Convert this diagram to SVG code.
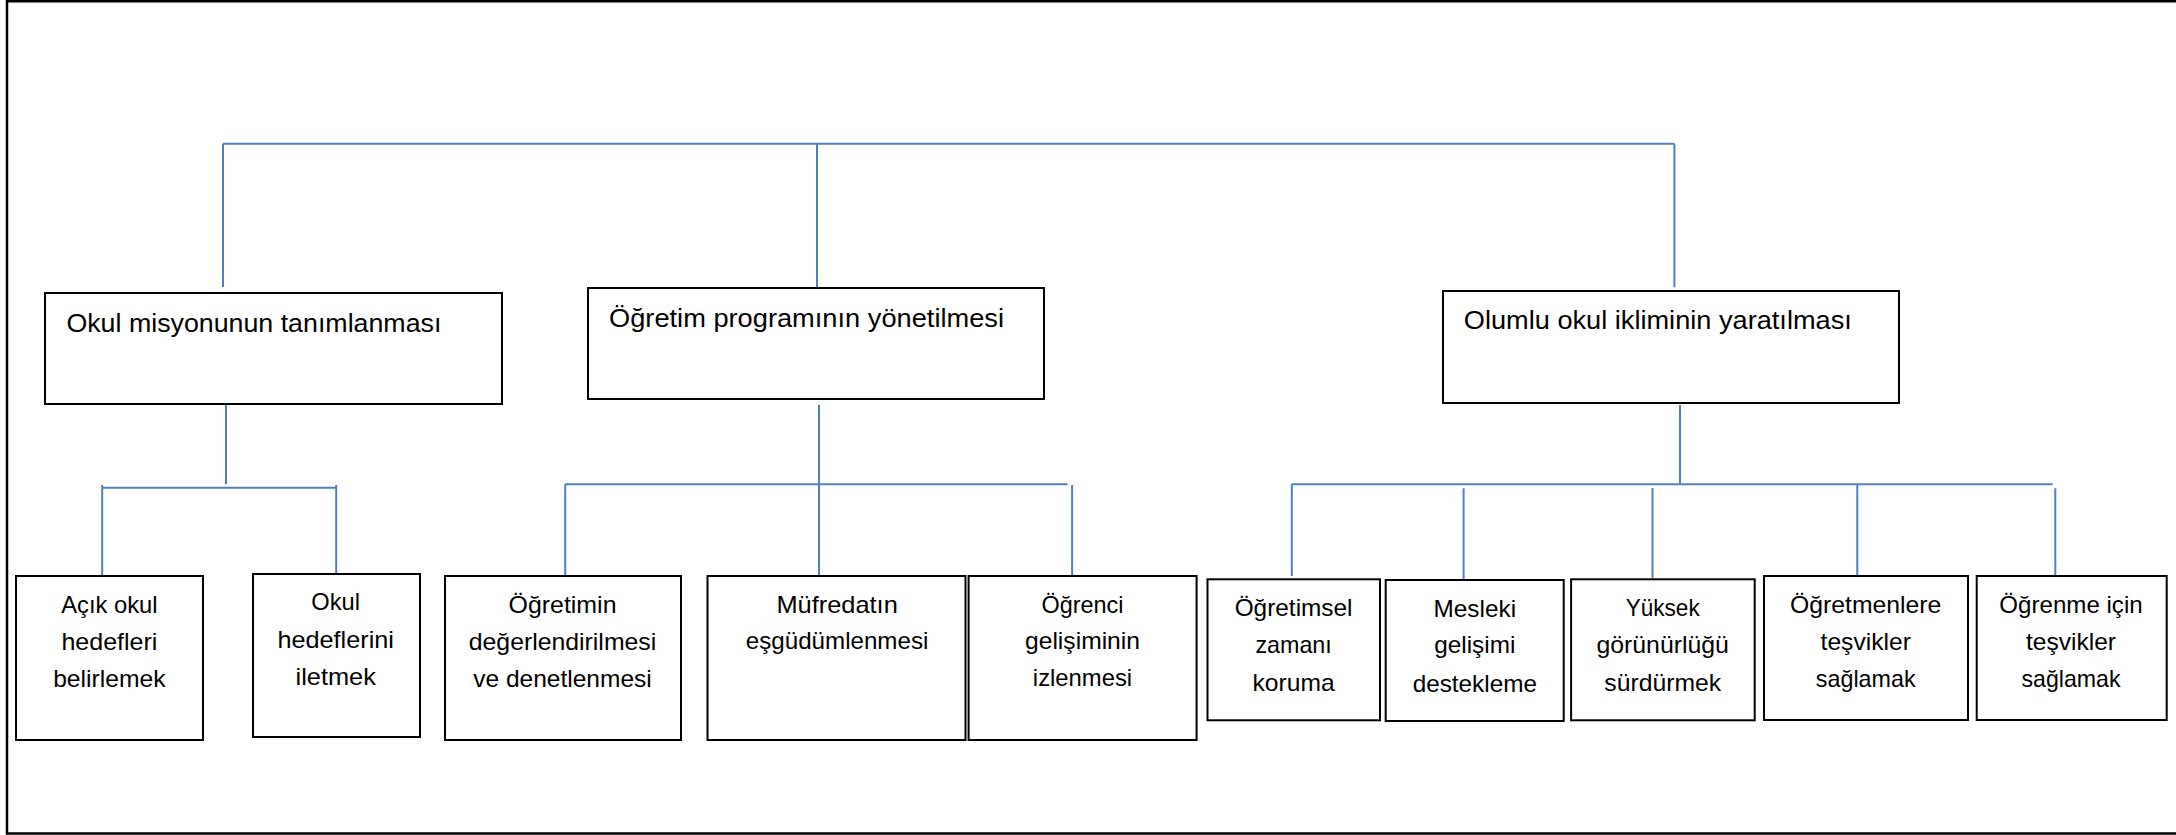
<svg xmlns="http://www.w3.org/2000/svg" width="2176" height="835" viewBox="0 0 2176 835">
<style>
.frame{fill:none;stroke:#000;stroke-width:2.5}
.box{fill:#fff;stroke:#000;stroke-width:2}
.conn{fill:none;stroke:#4F81BD;stroke-width:2}
text{font-family:"Liberation Sans",Arial,sans-serif;fill:#000}
.top{font-size:25px}
.sub{font-size:24px;text-anchor:middle}
</style>
<rect x="0" y="0" width="2176" height="835" fill="#fff"/>
<path class="frame" d="M2180 1.2 H7 V833.5 H2180"/>
<g id="connectors">
<path class="conn" d="M223 143.7 H1674.4 M223 143.7 V287 M817 143.7 V287 M1674.4 143.7 V287.3"/>
<path class="conn" d="M226 405 V484.3 M102.2 487.7 H336.2 M102.2 485 V576 M336.2 485 V573"/>
<path class="conn" d="M819 405 V576 M565.2 484.3 H1067.5 M565.2 484.3 V576 M1072.1 485 V576"/>
<path class="conn" d="M1680 405 V484.3 M1291.8 484.3 H2052.7 M1291.8 484.3 V576 M1463.6 488.3 V579.3 M1652.5 488 V578 M1857.3 484.3 V576 M2055.3 488.3 V576"/>
</g>
<g id="n1"><rect class="box" x="45" y="293" width="457" height="111"/><text class="top" x="66.4" y="331.7" textLength="375" lengthAdjust="spacingAndGlyphs">Okul misyonunun tanımlanması</text></g>
<g id="n2"><rect class="box" x="588" y="288" width="456" height="111"/><text class="top" x="609" y="326.7" textLength="395" lengthAdjust="spacingAndGlyphs">Öğretim programının yönetilmesi</text></g>
<g id="n3"><rect class="box" x="1443" y="291" width="456" height="112"/><text class="top" x="1463.8" y="329.3" textLength="388" lengthAdjust="spacingAndGlyphs">Olumlu okul ikliminin yaratılması</text></g>
<g id="n1a"><rect class="box" x="16" y="576" width="187" height="164"/>
<text class="sub" x="109.4" y="613.3" textLength="96.4" lengthAdjust="spacingAndGlyphs">Açık okul</text>
<text class="sub" x="109.4" y="650" textLength="96" lengthAdjust="spacingAndGlyphs">hedefleri</text>
<text class="sub" x="109.4" y="687" textLength="112.5" lengthAdjust="spacingAndGlyphs">belirlemek</text></g>
<g id="n1b"><rect class="box" x="253" y="574" width="167" height="163"/>
<text class="sub" x="335.7" y="610" textLength="48.7" lengthAdjust="spacingAndGlyphs">Okul</text>
<text class="sub" x="335.7" y="648.3" textLength="116.5" lengthAdjust="spacingAndGlyphs">hedeflerini</text>
<text class="sub" x="335.7" y="685" textLength="80.4" lengthAdjust="spacingAndGlyphs">iletmek</text></g>
<g id="n2a"><rect class="box" x="445" y="576" width="236" height="164"/>
<text class="sub" x="562.5" y="613.3" textLength="108" lengthAdjust="spacingAndGlyphs">Öğretimin</text>
<text class="sub" x="562.5" y="650" textLength="187.5" lengthAdjust="spacingAndGlyphs">değerlendirilmesi</text>
<text class="sub" x="562.5" y="687" textLength="178.6" lengthAdjust="spacingAndGlyphs">ve denetlenmesi</text></g>
<g id="n2b"><rect class="box" x="707.5" y="576" width="258" height="164"/>
<text class="sub" x="837.1" y="612.7" textLength="121.4" lengthAdjust="spacingAndGlyphs">Müfredatın</text>
<text class="sub" x="837.1" y="649.3" textLength="182.5" lengthAdjust="spacingAndGlyphs">eşgüdümlenmesi</text></g>
<g id="n2c"><rect class="box" x="968.6" y="576" width="228" height="164"/>
<text class="sub" x="1082.5" y="612.7" textLength="82.1" lengthAdjust="spacingAndGlyphs">Öğrenci</text>
<text class="sub" x="1082.5" y="649.3" textLength="115" lengthAdjust="spacingAndGlyphs">gelişiminin</text>
<text class="sub" x="1082.5" y="686" textLength="99.3" lengthAdjust="spacingAndGlyphs">izlenmesi</text></g>
<g id="n3a"><rect class="box" x="1207.5" y="579.3" width="172.5" height="141"/>
<text class="sub" x="1293.6" y="615.7" textLength="117.9" lengthAdjust="spacingAndGlyphs">Öğretimsel</text>
<text class="sub" x="1293.6" y="653.3" textLength="76.4" lengthAdjust="spacingAndGlyphs">zamanı</text>
<text class="sub" x="1293.6" y="690.7" textLength="82.1" lengthAdjust="spacingAndGlyphs">koruma</text></g>
<g id="n3b"><rect class="box" x="1385.7" y="580" width="178" height="141"/>
<text class="sub" x="1474.8" y="616.7" textLength="82.5" lengthAdjust="spacingAndGlyphs">Mesleki</text>
<text class="sub" x="1474.8" y="653.3" textLength="81.1" lengthAdjust="spacingAndGlyphs">gelişimi</text>
<text class="sub" x="1474.8" y="691.7" textLength="124.3" lengthAdjust="spacingAndGlyphs">destekleme</text></g>
<g id="n3c"><rect class="box" x="1571.1" y="579.3" width="183.6" height="141"/>
<text class="sub" x="1662.7" y="615.7" textLength="73.9" lengthAdjust="spacingAndGlyphs">Yüksek</text>
<text class="sub" x="1662.7" y="653.3" textLength="132.5" lengthAdjust="spacingAndGlyphs">görünürlüğü</text>
<text class="sub" x="1662.7" y="690.7" textLength="116.8" lengthAdjust="spacingAndGlyphs">sürdürmek</text></g>
<g id="n3d"><rect class="box" x="1764" y="576" width="204" height="144"/>
<text class="sub" x="1865.7" y="612.7" textLength="151.3" lengthAdjust="spacingAndGlyphs">Öğretmenlere</text>
<text class="sub" x="1865.7" y="650" textLength="90.3" lengthAdjust="spacingAndGlyphs">teşvikler</text>
<text class="sub" x="1865.7" y="687.3" textLength="99.7" lengthAdjust="spacingAndGlyphs">sağlamak</text></g>
<g id="n3e"><rect class="box" x="1976.7" y="576" width="190" height="144"/>
<text class="sub" x="2071" y="612.7" textLength="143.3" lengthAdjust="spacingAndGlyphs">Öğrenme için</text>
<text class="sub" x="2071" y="650" textLength="90" lengthAdjust="spacingAndGlyphs">teşvikler</text>
<text class="sub" x="2071" y="687.3" textLength="99" lengthAdjust="spacingAndGlyphs">sağlamak</text></g>
</svg>
